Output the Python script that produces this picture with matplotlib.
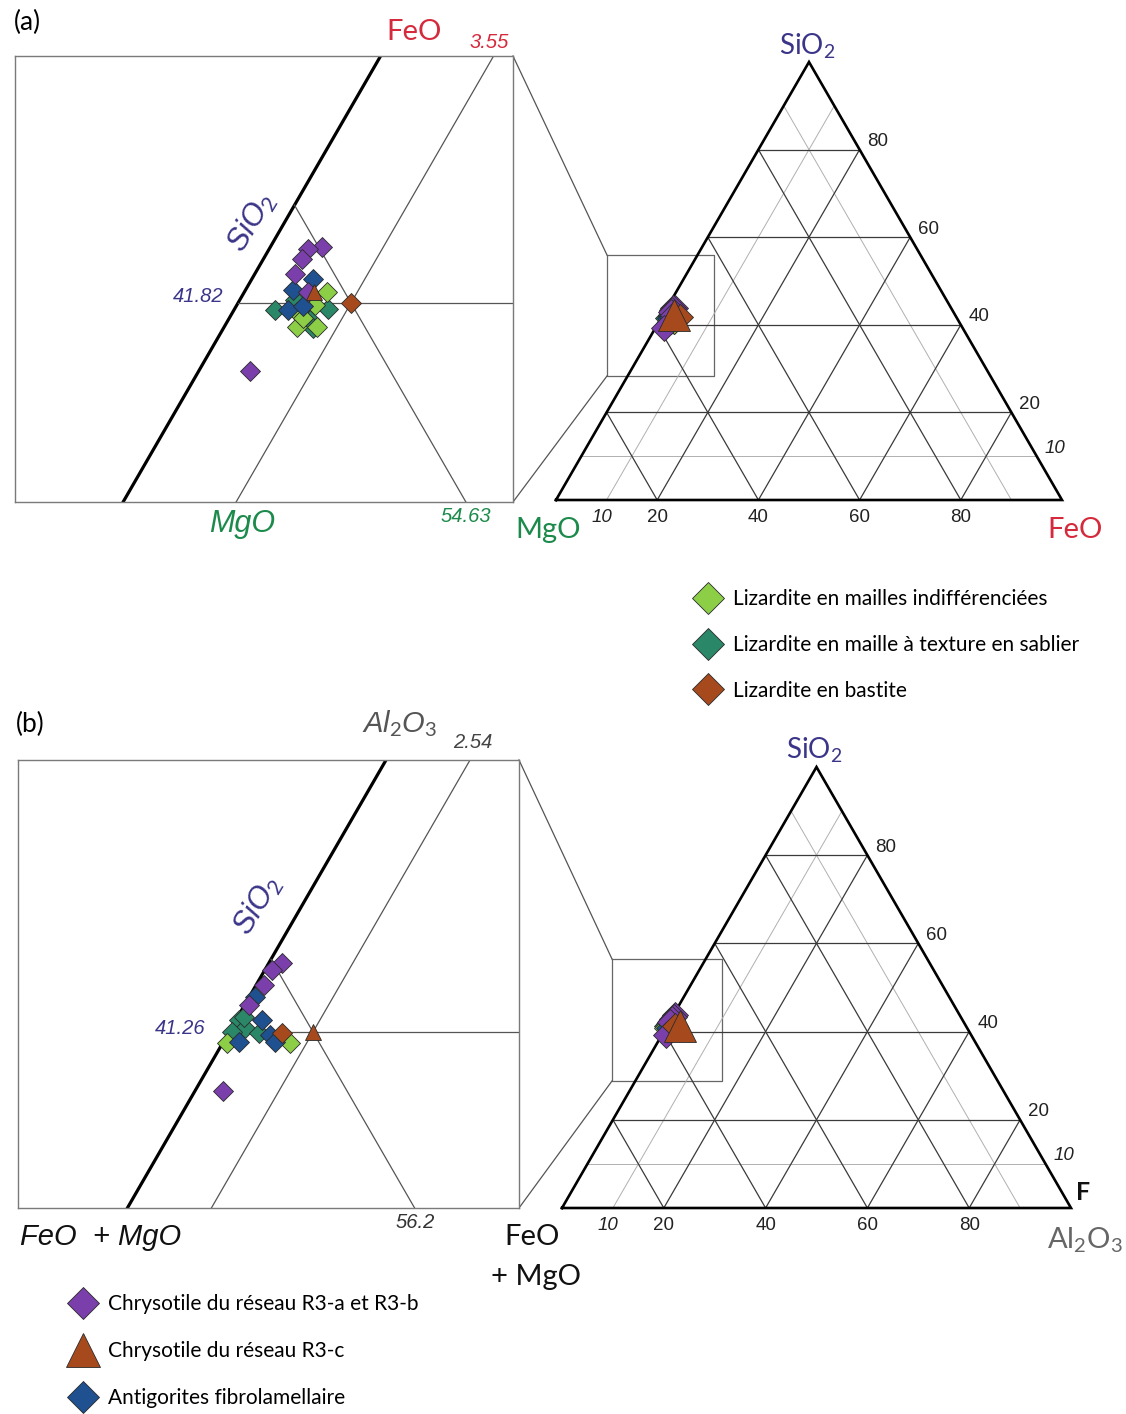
import numpy as np
import matplotlib.pyplot as plt
from matplotlib.lines import Line2D

plt.rcParams['font.family'] = ['Lato', 'DejaVu Sans']
plt.rcParams['mathtext.fontset'] = 'custom'
plt.rcParams['mathtext.rm'] = 'Lato'
plt.rcParams['mathtext.it'] = 'Liberation Sans:italic'
plt.rcParams['mathtext.bf'] = 'Lato:bold'

W, H = 1126, 1414
SQ = np.sqrt(3) / 2

# ---- données (% poids) ----
# (a) SiO2 - MgO - FeO   (MgO = 100 - SiO2 - FeO)
a_liz_sio2 = [42.22, 41.75, 41.49, 40.95, 40.95, 41.28]
a_liz_feo = [2.60, 2.46, 2.02, 2.29, 2.92, 2.31]
a_sab_sio2 = [41.57, 41.93, 41.49, 41.60, 41.20, 40.91]
a_sab_feo = [1.29, 1.74, 2.33, 2.94, 2.57, 2.81]
a_bas_sio2 = [41.82]
a_bas_feo = [3.55]
a_atg_sio2 = [42.69, 42.29, 41.57, 41.71]
a_atg_feo = [1.92, 1.49, 1.70, 2.10]
a_ctl_ab_sio2 = [43.85, 43.78, 43.42, 42.87, 42.22, 39.35]
a_ctl_ab_feo = [1.62, 1.22, 1.21, 1.27, 2.00, 1.61]
a_ctl_c_sio2 = [42.22]
a_ctl_c_feo = [2.19]

# (b) SiO2 - (FeO+MgO) - Al2O3
b_liz_sio2 = [40.88, 40.88]
b_liz_al = [0.13, 2.04]
b_sab_sio2 = [41.68, 41.40, 41.26, 41.23, 41.78]
b_sab_al = [0.09, 0.41, 0.09, 0.92, 0.19]
b_bas_sio2 = [41.22]
b_bas_al = [1.62]
b_atg_sio2 = [42.48, 41.68, 41.16, 40.91, 40.91]
b_atg_al = [0.18, 0.79, 1.29, 1.57, 0.48]
b_ctl_ab_sio2 = [43.67, 43.42, 42.90, 42.20, 39.20]
b_ctl_ab_al = [0.40, 0.22, 0.24, 0.13, 0.85]
b_ctl_c_sio2 = [41.26]
b_ctl_c_al = [2.54]

# lignes de référence des agrandissements (SiO2, composant droit)
a_ref = (41.82, 3.55)
b_ref = (41.26, 2.54)

labels_a = ['Lizardite en mailles indifférenciées',
            'Lizardite en maille à texture en sablier',
            'Lizardite en bastite']
labels_b = ['Chrysotile du réseau R3-a et R3-b',
            'Chrysotile du réseau R3-c',
            'Antigorites fibrolamellaire']

C_LIZ = '#8ccf47'
C_SAB = '#2a8768'
C_BAS = '#a64a1e'
C_CTL = '#7b3fab'
C_ATG = '#1f5190'
C_SI = '#3b3589'
C_MG = '#1c8a4b'
C_FE = '#d42a3c'
EDGE = '#2a2a2a'

fig = plt.figure(figsize=(W / 100, H / 100), dpi=100)


def px_axes(l, t, r, b):
    return fig.add_axes([l / W, 1 - b / H, (r - l) / W, (b - t) / H])


def ftext(x, y, s, **kw):
    kw.setdefault('ha', 'center')
    kw.setdefault('va', 'center')
    return fig.text(x / W, 1 - y / H, s, **kw)


def tern(sio2, right):
    s = np.asarray(sio2, float) / 100
    r = np.asarray(right, float) / 100
    return r + s / 2, s * SQ


def series(panel):
    if panel == 'a':
        return [(a_sab_sio2, a_sab_feo, 'D', C_SAB), (a_liz_sio2, a_liz_feo, 'D', C_LIZ),
                (a_atg_sio2, a_atg_feo, 'D', C_ATG), (a_ctl_ab_sio2, a_ctl_ab_feo, 'D', C_CTL),
                (a_bas_sio2, a_bas_feo, 'D', C_BAS), (a_ctl_c_sio2, a_ctl_c_feo, '^', C_BAS)]
    return [(b_sab_sio2, b_sab_al, 'D', C_SAB), (b_liz_sio2, b_liz_al, 'D', C_LIZ),
            (b_atg_sio2, b_atg_al, 'D', C_ATG), (b_ctl_ab_sio2, b_ctl_ab_al, 'D', C_CTL),
            (b_bas_sio2, b_bas_al, 'D', C_BAS), (b_ctl_c_sio2, b_ctl_c_al, '^', C_BAS)]


def draw_triangle(ax, panel):
    ax.set_xlim(0, 1)
    ax.set_ylim(0, SQ)
    ax.axis('off')
    for k in (10, 20, 40, 60, 80):
        c, lw = ('#b0b0b0', 0.7) if k == 10 else ('#3a3a3a', 0.9)
        ax.plot(*tern([k, k], [0, 100 - k]), color=c, lw=lw)
        ax.plot(*tern([0, 100 - k], [k, k]), color=c, lw=lw)
        ax.plot(*tern([0, 100 - k], [100 - k, 0]), color=c, lw=lw)
    ax.plot(*tern([0, 0, 100, 0], [0, 100, 0, 0]), color='k', lw=1.9,
            solid_joinstyle='miter', clip_on=False)
    for k in (10, 20, 40, 60, 80):
        st = 'italic' if k == 10 else 'normal'
        ax.annotate(str(k), tern(k, 100 - k), xytext=(8, 8), textcoords='offset pixels',
                    ha='left', va='center', fontsize=13.5, style=st,
                    family='Liberation Sans', color='#222')
        ax.annotate(str(k), tern(0, k), xytext=(-5 if k == 10 else 0, -17),
                    textcoords='offset pixels', ha='center', va='center',
                    fontsize=13.5, style=st, family='Liberation Sans', color='#222')
    for sio2, right, m, c in series(panel):
        ms = 23 if m == '^' else 13
        ax.plot(*tern(sio2, right), ls='none', marker=m, ms=ms, mfc=c, mec=EDGE,
                mew=0.6, clip_on=False)


def draw_inset(ax, panel, ref, ref_px, rect, scale):
    l, t, r, b = rect
    X0, Y0 = tern(*ref)
    ax.set_xlim(X0 - (ref_px[0] - l) / scale, X0 + (r - ref_px[0]) / scale)
    ax.set_ylim(Y0 - (b - ref_px[1]) / scale, Y0 + (ref_px[1] - t) / scale)
    ax.set_xticks([])
    ax.set_yticks([])
    for sp in ax.spines.values():
        sp.set_color('#7a7a7a')
        sp.set_linewidth(1.0)
    s0, r0 = ref
    l0 = 100 - s0 - r0
    ax.plot(*tern([0, 100], [0, 0]), color='k', lw=2.3)
    ax.plot(*tern([0, 100 - r0], [r0, r0]), color='#555', lw=0.9)
    ax.plot(*tern([0, 100 - l0], [100 - l0, 0]), color='#555', lw=0.9)
    ax.plot(*tern([s0, s0], [0, 100 - s0]), color='#555', lw=0.9)
    for sio2, right, m, c in series(panel):
        ms = 12 if m == '^' else 10
        ax.plot(*tern(sio2, right), ls='none', marker=m, ms=ms, mfc=c, mec=EDGE, mew=0.6)


# fond : cadres de zoom et lignes de liaison
ov = px_axes(0, 0, W, H)
ov.set_xlim(0, W)
ov.set_ylim(H, 0)
ov.axis('off')
for (x0, y0, x1, y1), (il, it, ib) in (((607, 255, 714, 376), (513, 56, 502)),
                                        ((612, 959, 722, 1081), (519, 760, 1208))):
    ov.plot([x0, x1, x1, x0, x0], [y0, y0, y1, y1, y0], color='#666', lw=0.9)
    ov.plot([il, x0], [it, y0], color='#555', lw=0.9)
    ov.plot([il, x0], [ib, y1], color='#555', lw=0.9)

# ---- (a) ----
ax_ia = px_axes(15, 56, 513, 502)
draw_inset(ax_ia, 'a', a_ref, (351, 303), (15, 56, 513, 502), 3183)
ax_ta = px_axes(556, 62, 1062, 500)
ax_ta.patch.set_visible(False)
draw_triangle(ax_ta, 'a')

# ---- (b) ----
ax_ib = px_axes(18, 760, 519, 1208)
draw_inset(ax_ib, 'b', b_ref, (313, 1032), (18, 760, 519, 1208), 3307)
ax_tb = px_axes(562, 767, 1071, 1208)
ax_tb.patch.set_visible(False)
draw_triangle(ax_tb, 'b')

# ---- textes ----
ftext(27, 22, '(a)', fontsize=19)
ftext(30, 724, '(b)', fontsize=19)

# agrandissement (a)
ftext(414, 32, 'FeO', fontsize=21, color=C_FE)
ftext(489, 42, '3.55', fontsize=14.5, color=C_FE, family='Liberation Sans', style='italic')
ftext(252, 222, r'$\mathit{SiO}_{\mathit{2}}$', fontsize=22, color=C_SI, rotation=59)
ftext(198, 297, '41.82', fontsize=14.5, color=C_SI, family='Liberation Sans', style='italic')
ftext(242, 524, 'MgO', fontsize=22, color=C_MG, family='Liberation Sans', style='italic')
ftext(466, 517, '54.63', fontsize=14.5, color=C_MG, family='Liberation Sans', style='italic')

# triangle (a)
ftext(807, 46, r'SiO$_2$', fontsize=20, color=C_SI)
ftext(548, 530, 'MgO', fontsize=21, color=C_MG)
ftext(1075, 530, 'FeO', fontsize=21, color=C_FE)

# agrandissement (b)
ftext(400, 724, r'$\mathit{Al}_{\mathit{2}}\mathit{O}_{\mathit{3}}$', fontsize=21, color='#555')
ftext(473, 742, '2.54', fontsize=14.5, color='#444', family='Liberation Sans', style='italic')
ftext(258, 905, r'$\mathit{SiO}_{\mathit{2}}$', fontsize=22, color=C_SI, rotation=59)
ftext(180, 1029, '41.26', fontsize=14.5, color=C_SI, family='Liberation Sans', style='italic')
ftext(415, 1223, '56.2', fontsize=14.5, color='#333', family='Liberation Sans', style='italic')
ftext(101, 1237, 'FeO  + MgO', fontsize=21, color='#111', family='Liberation Sans', style='italic')

# triangle (b)
ftext(814, 750, r'SiO$_2$', fontsize=20, color=C_SI)
ftext(532, 1237, 'FeO', fontsize=21, color='#111')
ftext(536, 1277, '+ MgO', fontsize=21, color='#111')
ftext(1083, 1193, 'F', fontsize=18, weight='bold', color='#111')
ftext(1085, 1240, r'Al$_2$O$_3$', fontsize=21, color='#666')

# ---- légendes ----
h_a = [Line2D([], [], ls='none', marker='D', ms=16, mfc=c, mec=EDGE, mew=0.6)
       for c in (C_LIZ, C_SAB, C_BAS)]
h_b = [Line2D([], [], ls='none', marker='D', ms=16, mfc=C_CTL, mec=EDGE, mew=0.6),
       Line2D([], [], ls='none', marker='^', ms=24, mfc=C_BAS, mec=EDGE, mew=0.6),
       Line2D([], [], ls='none', marker='D', ms=16, mfc=C_ATG, mec=EDGE, mew=0.6)]
for handles, labels, x, y, sp in ((h_a, labels_a, 694, 589, 1.24),
                                  (h_b, labels_b, 69, 1294, 1.3)):
    fig.legend(handles, labels, loc='upper left', bbox_to_anchor=(x / W, 1 - y / H),
               frameon=False, fontsize=15, handlelength=1.3, handletextpad=0.55,
               labelspacing=sp, borderpad=0, borderaxespad=0)

fig.savefig('out.png', dpi=100, facecolor='white')
